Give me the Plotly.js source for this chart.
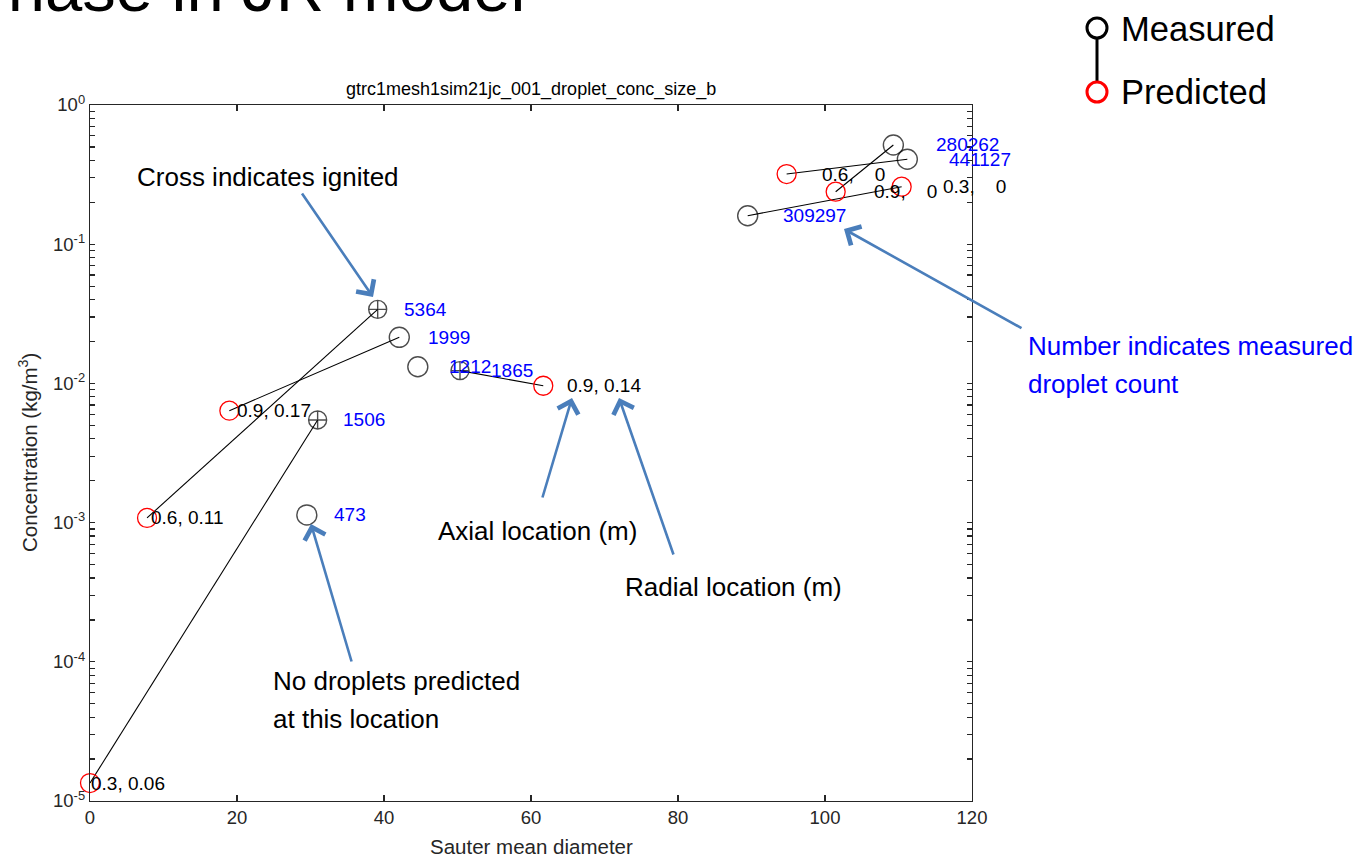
<!DOCTYPE html>
<html>
<head>
<meta charset="utf-8">
<script src="https://cdn.plot.ly/plotly-3.0.1.min.js"></script>
<style>html,body{margin:0;padding:0;background:#fff;}#chart{width:1358px;height:858px;}</style>
</head>
<body>
<div id="chart"></div>
<script>
// ---- data ----
const measX = [39.14, 42.08, 44.6, 50.34, 30.97, 29.5, 109.3, 111.2, 89.48];
const measY = [0.03405, 0.02143, 0.01318, 0.01235, 0.00546, 0.001135, 0.5161, 0.4074, 0.1602];
const measCount = [5364, 1999, 1212, 1865, 1506, 473, 280262, 441127, 309297];
const measIgnited = [true, false, false, true, true, false, false, false, false];
const predX = [7.76, 18.96, null, 61.67, 0, null, 101.45, 94.78, 110.43];
const predY = [0.00108, 0.00637, null, 0.00962, 1.346e-5, null, 0.2383, 0.3192, 0.2588];
const axialLoc = [0.6, 0.9, null, 0.9, 0.3, null, 0.9, 0.6, 0.3];
const radialLoc = [0.11, 0.17, null, 0.14, 0.06, null, 0, 0, 0];
const xTicks = [0, 20, 40, 60, 80, 100, 120];
const yTickVals = [1e-5, 1e-4, 1e-3, 1e-2, 1e-1, 1];
const yTickText = ['10<sup>-5</sup>', '10<sup>-4</sup>', '10<sup>-3</sup>', '10<sup>-2</sup>', '10<sup>-1</sup>', '10<sup>0</sup>'];
const plotTitle = 'gtrc1mesh1sim21jc_001_droplet_conc_size_b';
const xTitle = 'Sauter mean diameter';
const yTitle = 'Concentration (kg/m<sup>3</sup>)';

// ---- styling / layout helpers ----
const FONT = '"Liberation Sans", Arial, Helvetica, sans-serif';
const L = 90, R = 972, T = 105, B = 801;
const px2x = p => (p - L) / (R - L);
const py2y = p => (B - p) / (B - T);
const countShift = [25, 28, 30, 30, 24, 26, 42, 41, 34];
const ARROW = '#4a7ebb';

// all ticks of the log axis: decades (labelled) plus 2..9 within every decade (unlabelled)
const allTickVals = [], allTickText = [];
yTickVals.forEach((d, i) => {
  allTickVals.push(d); allTickText.push(yTickText[i]);
  if (i < yTickVals.length - 1) for (let k = 2; k <= 9; k++) { allTickVals.push(d * k); allTickText.push(''); }
});

// radial location printed in a 4-character field (MATLAB-like)
function padRadial(v) {
  const s = String(v);
  return '\u00a0'.repeat(Math.max(0, 4 - s.length)) + s;
}

// connection lines measured -> predicted
const lx = [], ly = [];
for (let i = 0; i < measX.length; i++) {
  if (predX[i] === null) continue;
  lx.push(measX[i], predX[i], null);
  ly.push(measY[i], predY[i], null);
}

const traces = [
  {x: lx, y: ly, mode: 'lines', line: {color: '#000', width: 1.1}, hoverinfo: 'skip', cliponaxis: false, showlegend: false},
  {x: measX, y: measY, mode: 'markers', cliponaxis: false, showlegend: false,
   marker: {symbol: measIgnited.map(f => f ? 'circle-cross-open' : 'circle-open'),
            size: measIgnited.map(f => f ? 18 : 20), color: '#000', line: {width: 1.4, color: '#000'}}},
  {x: predX.filter(v => v !== null), y: predY.filter(v => v !== null), mode: 'markers',
   cliponaxis: false, showlegend: false,
   marker: {symbol: 'circle-open', size: 19, color: '#ff0000', line: {width: 1.3, color: '#ff0000'}}}
];

const ann = [];
// count labels
measCount.forEach((c, i) => {
  ann.push({x: measX[i], y: Math.log10(measY[i]), xref: 'x', yref: 'y', text: String(c), showarrow: false,
            xanchor: 'left', yanchor: 'middle', xshift: countShift[i], borderpad: 0,
            font: {family: FONT, size: 19, color: '#0000ff'}});
});
// predicted location labels
predX.forEach((p, i) => {
  if (p === null) return;
  ann.push({x: p * 1.05, y: Math.log10(predY[i]), xref: 'x', yref: 'y',
            text: axialLoc[i] + ', ' + padRadial(radialLoc[i]), showarrow: false,
            xanchor: 'left', yanchor: 'middle', borderpad: 0,
            font: {family: FONT, size: 19, color: '#000'}});
});
// plot title and axis titles
ann.push({x: 0.5, y: py2y(89), xref: 'paper', yref: 'paper', text: plotTitle, showarrow: false,
          xanchor: 'center', yanchor: 'middle', font: {family: FONT, size: 18, color: '#000'}});
ann.push({x: 0.5, y: py2y(846), xref: 'paper', yref: 'paper', text: xTitle, showarrow: false,
          xanchor: 'center', yanchor: 'middle', font: {family: FONT, size: 20.5, color: '#262626'}});
ann.push({x: px2x(28), y: 0.5, xref: 'paper', yref: 'paper', text: yTitle, showarrow: false, textangle: -90,
          xanchor: 'center', yanchor: 'middle', font: {family: FONT, size: 20.5, color: '#262626'}});

// explanatory text
function txt(t, px, py, color, size, anchor) {
  ann.push({x: px2x(px), y: py2y(py), xref: 'paper', yref: 'paper', text: t, showarrow: false,
            xanchor: anchor || 'left', yanchor: 'middle', borderpad: 0,
            font: {family: FONT, size: size || 26, color: color || '#000'}});
}
txt('Cross indicates ignited', 136, 177);
txt('Number indicates measured', 1027, 346, '#0000ff');
txt('droplet count', 1027, 384, '#0000ff');
txt('Axial location (m)', 437, 531);
txt('Radial location (m)', 624, 587);
txt('No droplets predicted', 272, 681);
txt('at this location', 272, 719);
txt('Measured', 1120, 29, '#000', 34.6);
txt('Predicted', 1120, 92, '#000', 34.6);
// cut-off slide heading
ann.push({x: px2x(527), y: py2y(-13), xref: 'paper', yref: 'paper', text: 'Phase in JR model', showarrow: false,
          xanchor: 'right', yanchor: 'middle', font: {family: FONT, size: 67, color: '#000'}});

// arrows
function arrow(hx, hy, tx, ty) {
  ann.push({x: px2x(hx), y: py2y(hy), xref: 'paper', yref: 'paper', text: '', showarrow: true,
            ax: tx - hx, ay: ty - hy, axref: 'pixel', ayref: 'pixel',
            arrowhead: 4, arrowsize: 1.6, arrowwidth: 2.6, arrowcolor: ARROW, standoff: 0, startstandoff: 0,
            font: {size: 1}});
}
arrow(373, 297, 301, 192);
arrow(572, 398, 542, 499);
arrow(619, 398, 674, 556);
arrow(844, 229, 1023, 329);
arrow(311, 524, 352, 663);

// legend drawn as shapes
const shapes = [
  {type: 'line', xref: 'paper', yref: 'paper', x0: px2x(1097), x1: px2x(1097), y0: py2y(38), y1: py2y(82),
   line: {color: '#000', width: 3}},
  {type: 'circle', xref: 'paper', yref: 'paper', xsizemode: 'pixel', ysizemode: 'pixel',
   xanchor: px2x(1097), yanchor: py2y(28), x0: -10, x1: 10, y0: -10, y1: 10,
   line: {color: '#000', width: 3}, fillcolor: '#fff'},
  {type: 'circle', xref: 'paper', yref: 'paper', xsizemode: 'pixel', ysizemode: 'pixel',
   xanchor: px2x(1097), yanchor: py2y(92), x0: -10, x1: 10, y0: -10, y1: 10,
   line: {color: '#ff0000', width: 3}, fillcolor: '#fff'}
];

const axisCommon = {showline: true, linecolor: '#262626', linewidth: 1.2, mirror: 'allticks',
                    ticks: 'inside', tickcolor: '#262626', tickwidth: 1.2, showgrid: false, zeroline: false,
                    tickfont: {family: FONT, size: 18.5, color: '#262626'}};

const layout = {
  width: 1358, height: 858,
  margin: {l: L, r: 1358 - R, t: T, b: 858 - B, pad: 0},
  paper_bgcolor: '#fff', plot_bgcolor: '#fff',
  showlegend: false,
  xaxis: Object.assign({}, axisCommon, {range: [0, 120], tickvals: xTicks, ticklen: 6, fixedrange: true}),
  yaxis: Object.assign({}, axisCommon, {type: 'log', range: [-5, 0], tickmode: 'array',
                        tickvals: allTickVals, ticktext: allTickText, ticklen: 5, fixedrange: true}),
  annotations: ann,
  shapes: shapes
};

Plotly.newPlot('chart', traces, layout, {displayModeBar: false, staticPlot: true});
</script>
</body>
</html>
